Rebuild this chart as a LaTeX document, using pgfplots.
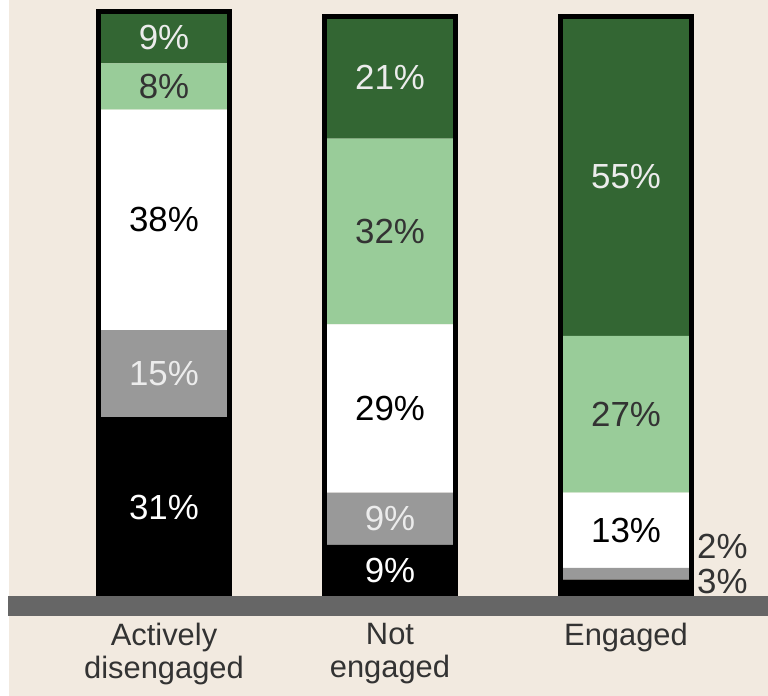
\documentclass[border=0pt]{standalone}
\usepackage{pgfplots}
\pgfplotsset{compat=1.18}
\usepackage{fontspec}
\setmainfont{Liberation Sans}
\definecolor{bg}{HTML}{F2EAE0}
\definecolor{dgreen}{HTML}{336633}
\definecolor{lgreen}{HTML}{99CC99}
\definecolor{mgray}{HTML}{999999}
\definecolor{base}{HTML}{666666}
\definecolor{lighttext}{HTML}{ECECEC}
\definecolor{darktext}{HTML}{333333}
\pgfplotsset{
  common/.style={
    scale only axis, width=768bp, height=696bp,
    xmin=0, xmax=768, ymin=-17.066, ymax=102.913,
    clip=false,
  },
  lbl/.style={only marks, mark=none, point meta=explicit symbolic,
    nodes near coords,
    every node near coord/.append style={anchor=center, font=\fontsize{35}{36}\selectfont, text=#1}},
}
\begin{document}
\begin{tikzpicture}
\fill[white] (0,0) rectangle (768bp,696bp);
\fill[bg] (9bp,0) rectangle (768bp,696bp);
\begin{axis}[common,
  ybar stacked, bar width=131,
  axis y line=none, axis x line*=middle,
  x axis line style={draw=none}, major tick length=0pt,
  ytick=\empty,
  xtick={164,390,626},
  xticklabels={{Actively\\disengaged},{Not\\engaged},{Engaged}},
  xticklabel style={align=center, anchor=north, yshift=-23bp,
    font=\fontsize{31}{33}\selectfont, text=darktext},
]
\addplot[fill=black, draw=none] coordinates {(164,31) (390,9) (626,3)};
\addplot[fill=mgray, draw=none] coordinates {(164,15) (390,9) (626,2)};
\addplot[fill=white, draw=none] coordinates {(164,38) (390,29) (626,13)};
\addplot[fill=lgreen, draw=none] coordinates {(164,8) (390,32) (626,27)};
\addplot[fill=dgreen, draw=none] coordinates {(164,9) (390,21) (626,55)};
\end{axis}
\begin{axis}[common, hide axis]
\addplot[ybar, bar width=131, draw=black, line width=5bp, fill=none]
  coordinates {(164,101) (390,100) (626,100)};
\addplot[lbl=white] coordinates {(164,15.5) [31\%] (390,4.5) [9\%]};
\addplot[lbl=lighttext] coordinates {(164,38.5) [15\%] (390,13.5) [9\%]};
\addplot[lbl=black] coordinates {(164,65) [38\%] (390,32.5) [29\%] (626,11.5) [13\%]};
\addplot[lbl=darktext] coordinates {(164,88) [8\%] (390,63) [32\%] (626,31.5) [27\%]};
\addplot[lbl=lighttext] coordinates {(164,96.5) [9\%] (390,89.5) [21\%] (626,72.5) [55\%]};
\addplot[lbl=darktext, every node near coord/.append style={anchor=west, inner sep=1bp}]
  coordinates {(696,8.8) [2\%] (696,2.6) [3\%]};
\end{axis}
\fill[base] (8bp,80bp) rectangle (768bp,100bp);
\end{tikzpicture}
\end{document}
